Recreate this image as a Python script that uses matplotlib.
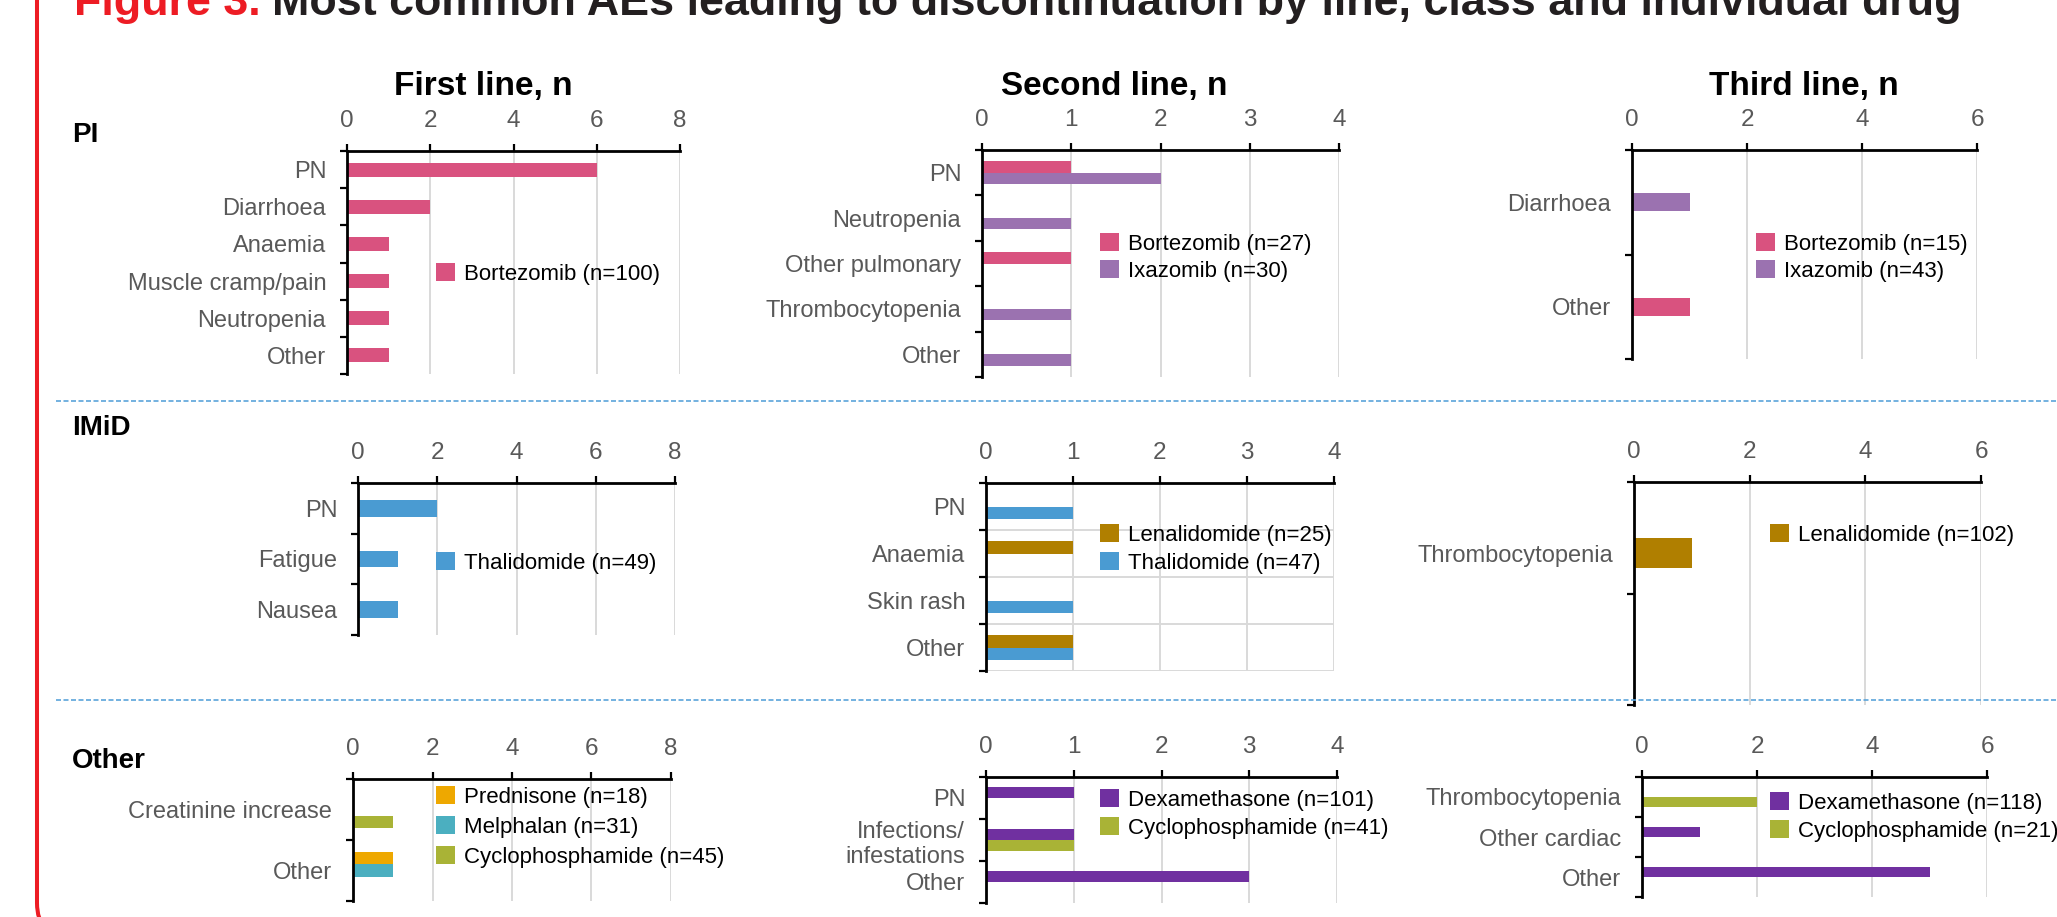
import numpy as np
import matplotlib
matplotlib.use("Agg")
import matplotlib.pyplot as plt
from matplotlib.patches import FancyBboxPatch
from matplotlib.lines import Line2D
from matplotlib.transforms import IdentityTransform

plt.rcParams["font.family"] = ["Liberation Sans", "DejaVu Sans"]

# -- Data -------------------------------------------------------------------
first_pi_cats = ["PN", "Diarrhoea", "Anaemia", "Muscle cramp/pain", "Neutropenia", "Other"]
first_pi_bortezomib = [6, 2, 1, 1, 1, 1]

second_pi_cats = ["PN", "Neutropenia", "Other pulmonary", "Thrombocytopenia", "Other"]
second_pi_bortezomib = [1, 0, 1, 0, 0]
second_pi_ixazomib = [2, 1, 0, 1, 1]

third_pi_cats = ["Diarrhoea", "Other"]
third_pi_bortezomib = [0, 1]
third_pi_ixazomib = [1, 0]

first_imid_cats = ["PN", "Fatigue", "Nausea"]
first_imid_thalidomide = [2, 1, 1]

second_imid_cats = ["PN", "Anaemia", "Skin rash", "Other"]
second_imid_lenalidomide = [0, 1, 0, 1]
second_imid_thalidomide = [1, 0, 1, 1]

third_imid_cats = ["Thrombocytopenia"]
third_imid_lenalidomide = [1]

first_other_cats = ["Creatinine increase", "Other"]
first_other_prednisone = [0, 1]
first_other_melphalan = [0, 1]
first_other_cyclophosphamide = [1, 0]

second_other_cats = ["PN", "Infections/\ninfestations", "Other"]
second_other_dexamethasone = [1, 1, 3]
second_other_cyclophosphamide = [0, 1, 0]

third_other_cats = ["Thrombocytopenia", "Other cardiac", "Other"]
third_other_dexamethasone = [0, 1, 5]
third_other_cyclophosphamide = [2, 0, 0]

# -- Colours per drug -------------------------------------------------------
C_BORT = "#D9527F"
C_IXA = "#9B72B0"
C_THAL = "#4A9BD2"
C_LEN = "#B07F00"
C_PRED = "#EEA800"
C_MEL = "#4BAFC0"
C_CYC = "#A9B336"
C_DEX = "#7030A0"
GREY = "#595959"
GRID = "#D9D9D9"

W, H = 2057, 917
fig = plt.figure(figsize=(W / 100, H / 100), dpi=100)


def fx(x):
    return x / W


def fy(y):
    return 1 - y / H


def panel(box, cats, series, xmax, step, bar_h, offsets, leg_xy,
          n_slots=None, cat_pos=None, hgrid=False, leg_space=0.3):
    x0, y0, x1, y1 = box
    ax = fig.add_axes([fx(x0), fy(y1), (x1 - x0) / W, (y1 - y0) / H])
    n = n_slots or len(cats)
    pos = np.arange(len(cats)) if cat_pos is None else np.array(cat_pos)
    handles = []
    for (label, vals, color), off in zip(series, offsets):
        bars = ax.barh(pos + off, vals, height=bar_h, color=color, linewidth=0, label=label)
        handles.append(bars)
    ax.set_xlim(0, xmax)
    ax.set_ylim(n - 0.5, -0.5)
    ax.set_xticks(np.arange(0, xmax + 0.1, step))
    ax.xaxis.tick_top()
    ax.tick_params(axis="x", which="major", direction="out", length=5, width=1.6,
                   labelsize=17.5, labelcolor=GREY, pad=9)
    ax.set_yticks(pos, cats)
    ax.tick_params(axis="y", which="major", length=0, pad=15, labelsize=17, labelcolor=GREY)
    ax.set_yticks(np.arange(n + 1) - 0.5, minor=True)
    ax.tick_params(axis="y", which="minor", direction="out", length=5, width=1.6)
    ax.set_axisbelow(True)
    ax.xaxis.grid(True, color=GRID, lw=1.4)
    if hgrid:
        ax.yaxis.grid(True, which="minor", color=GRID, lw=1.4)
    ax.spines[["right", "bottom"]].set_visible(False)
    for s in ("top", "left"):
        ax.spines[s].set_linewidth(2)
    ax.legend(handles=handles, loc="upper left",
              bbox_to_anchor=(fx(leg_xy[0]), fy(leg_xy[1])), bbox_transform=fig.transFigure,
              frameon=False, fontsize=16, handlelength=0.85, handleheight=0.85,
              handletextpad=0.4, borderpad=0, borderaxespad=0, labelspacing=leg_space)
    return ax


# -- PI row -----------------------------------------------------------------
panel((347, 151, 680, 374), first_pi_cats,
      [("Bortezomib (n=100)", first_pi_bortezomib, C_BORT)],
      8, 2, 0.38, [0], (436, 263))
panel((982, 150, 1339, 377), second_pi_cats,
      [("Bortezomib (n=27)", second_pi_bortezomib, C_BORT),
       ("Ixazomib (n=30)", second_pi_ixazomib, C_IXA)],
      4, 1, 0.25, [-0.125, 0.125], (1100, 233), leg_space=0.25)
panel((1632, 150, 1977, 359), third_pi_cats,
      [("Bortezomib (n=15)", third_pi_bortezomib, C_BORT),
       ("Ixazomib (n=43)", third_pi_ixazomib, C_IXA)],
      6, 2, 0.17, [0, 0], (1756, 233), leg_space=0.25)

# -- IMiD row ---------------------------------------------------------------
panel((358, 483, 675, 635), first_imid_cats,
      [("Thalidomide (n=49)", first_imid_thalidomide, C_THAL)],
      8, 2, 0.33, [0], (436, 552))
panel((986, 483, 1334, 671), second_imid_cats,
      [("Lenalidomide (n=25)", second_imid_lenalidomide, C_LEN),
       ("Thalidomide (n=47)", second_imid_thalidomide, C_THAL)],
      4, 1, 0.26, [-0.13, 0.13], (1100, 524), hgrid=True)
panel((1634, 482, 1981, 705), third_imid_cats,
      [("Lenalidomide (n=102)", third_imid_lenalidomide, C_LEN)],
      6, 2, 0.27, [0], (1770, 524), n_slots=2, cat_pos=[0.14])

# -- Other row --------------------------------------------------------------
panel((353, 779, 671, 901), first_other_cats,
      [("Prednisone (n=18)", first_other_prednisone, C_PRED),
       ("Melphalan (n=31)", first_other_melphalan, C_MEL),
       ("Cyclophosphamide (n=45)", first_other_cyclophosphamide, C_CYC)],
      8, 2, 0.2, [-0.2, 0, 0.2], (436, 786), leg_space=0.38)
panel((986, 777, 1337, 903), second_other_cats,
      [("Dexamethasone (n=101)", second_other_dexamethasone, C_DEX),
       ("Cyclophosphamide (n=41)", second_other_cyclophosphamide, C_CYC)],
      4, 1, 0.26, [-0.13, 0.13], (1100, 789))
panel((1642, 777, 1987, 897), third_other_cats,
      [("Dexamethasone (n=118)", third_other_dexamethasone, C_DEX),
       ("Cyclophosphamide (n=21)", third_other_cyclophosphamide, C_CYC)],
      6, 2, 0.25, [-0.125, 0.125], (1770, 792))

# -- Headings ---------------------------------------------------------------
fig.text(fx(74), fy(15), "Figure 3.", color="#ED1C24", fontsize=32.3,
         fontweight="bold", va="baseline")
fig.text(fx(272), fy(15),
         "Most common AEs leading to discontinuation by line, class and individual drug",
         color="#231F20", fontsize=32.3, fontweight="bold", va="baseline")

for x, t in [(394, "First line, n"), (1001, "Second line, n"), (1709, "Third line, n")]:
    fig.text(fx(x), fy(95), t, fontsize=24, fontweight="bold", va="baseline")

for y, t in [(142, "PI"), (435, "IMiD"), (768, "Other")]:
    fig.text(fx(72), fy(y), t, fontsize=20, fontweight="bold", va="baseline")

# dashed separators between drug classes
for y in (401, 700):
    fig.add_artist(Line2D([fx(56), 1.0], [fy(y), fy(y)], transform=fig.transFigure,
                          color="#5BA4DA", lw=1.2, ls=(0, (3, 1.5))))

# red rounded frame around the figure block
frame = FancyBboxPatch((37, -20), 2200, 1100, boxstyle="round,pad=0,rounding_size=34",
                       transform=IdentityTransform(), fill=False,
                       edgecolor="#ED1C24", lw=2.9)
fig.add_artist(frame)

fig.savefig("out.png", dpi=100)
